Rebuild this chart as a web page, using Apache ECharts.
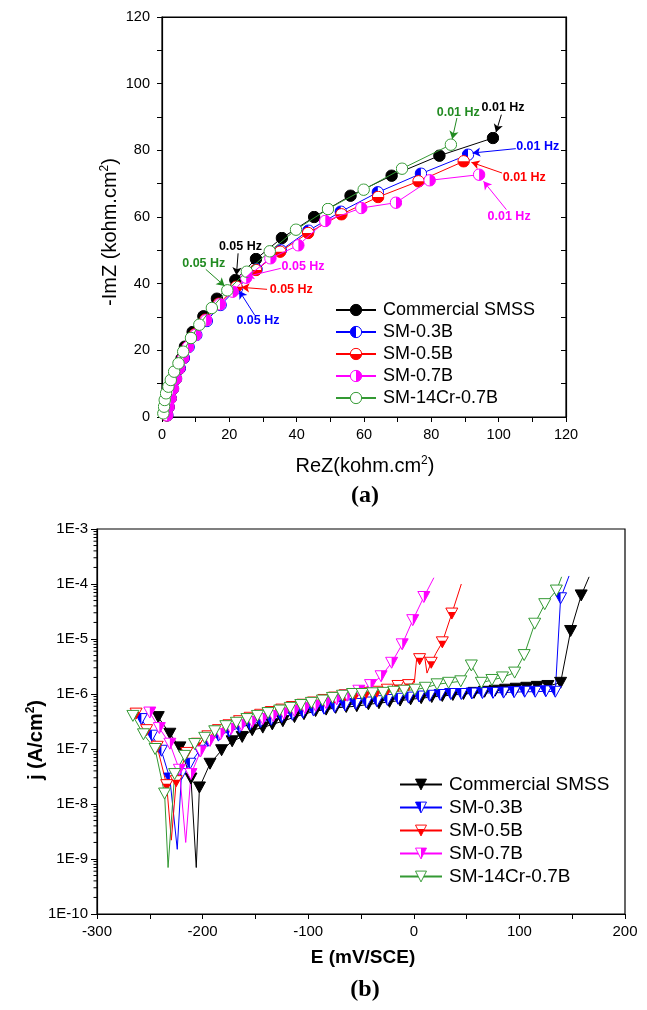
<!DOCTYPE html>
<html><head><meta charset="utf-8">
<script src="https://cdn.jsdelivr.net/npm/echarts@6/dist/echarts.min.js"></script>
<style>html,body{margin:0;padding:0;background:#fff}#c{width:647px;height:1010px}</style>
</head><body><div id="c"></div>
<script>
// ---------- shared ----------
const seriesNames = ['Commercial SMSS', 'SM-0.3B', 'SM-0.5B', 'SM-0.7B', 'SM-14Cr-0.7B'];
const seriesColors = ['#000000', '#0000ff', '#ff0000', '#ff00ff', '#339933'];
const markerFill = ['full', 'left', 'bottom', 'right', 'none'];

// ---------- (a) Nyquist: [ReZ, -ImZ] kohm.cm2 ----------
const nyqCommercial = [[1.4,0.5],[1.8,3.0],[2.3,5.5],[3.0,8.2],[3.8,11.2],[4.8,14.3],[5.8,17.5],[6.8,21.1],[9.1,25.5],[12.3,30.2],[16.3,35.5],[21.8,41.1],[27.9,47.4],[35.6,53.7],[45.2,60.0],[56.0,66.4],[68.2,72.4],[82.4,78.4],[98.3,83.7]];
const nyq03B = [[1.6,0.5],[2.0,3.0],[2.6,5.6],[3.3,8.5],[4.2,11.5],[5.3,14.6],[6.5,17.7],[7.9,21.0],[10.2,24.6],[13.3,28.8],[17.4,33.6],[22.3,38.6],[28.1,44.3],[35.3,50.0],[43.5,55.9],[53.1,61.6],[64.1,67.4],[76.9,73.0],[90.9,78.7]];
const nyq05B = [[1.5,0.5],[1.9,3.0],[2.5,5.6],[3.2,8.5],[4.1,11.5],[5.1,14.6],[6.3,17.7],[7.6,21.0],[9.8,24.8],[12.9,29.2],[16.9,34.0],[22.1,39.1],[27.9,44.1],[35.1,49.6],[43.4,55.2],[53.3,60.8],[64.2,66.0],[76.2,70.7],[89.6,76.7]];
const nyq07B = [[1.5,0.5],[1.9,3.0],[2.5,5.6],[3.2,8.5],[4.1,11.5],[5.1,14.6],[6.3,17.7],[7.7,21.0],[10.0,24.6],[13.1,29.0],[17.2,33.8],[21.0,37.6],[25.0,41.8],[32.2,47.6],[40.5,51.5],[48.5,58.8],[59.2,62.7],[69.5,64.3],[79.5,71.0],[94.2,72.7]];
const nyq14Cr = [[0.4,1.1],[0.6,3.1],[0.8,5.1],[1.2,7.1],[1.9,9.1],[2.6,11.1],[3.6,13.6],[4.9,16.1],[6.3,19.6],[8.6,23.7],[11.1,27.7],[14.8,32.7],[19.4,38.0],[25.2,43.6],[32.0,49.7],[39.8,56.2],[49.3,62.4],[59.9,68.2],[71.3,74.5],[85.8,81.7]];
const nyqTickLabels = [0, 20, 40, 60, 80, 100, 120];

// frequency annotations (data units): text, series index, label centre, arrow start, arrow end
const freqNotes = [
  {t:'0.01 Hz', s:0, at:[101.3,92.7], from:[100.8,90.7], to:[99.2,85.4]},
  {t:'0.01 Hz', s:4, at:[88.0,91.4], from:[87.6,89.7], to:[86.2,83.4]},
  {t:'0.01 Hz', s:1, at:[111.6,81.2], from:[105.1,80.5], to:[92.2,79.2]},
  {t:'0.01 Hz', s:2, at:[107.6,71.7], from:[101.0,73.2], to:[91.9,76.4]},
  {t:'0.01 Hz', s:3, at:[103.1,60.0], from:[102.3,62.2], to:[95.5,70.7]},
  {t:'0.05 Hz', s:0, at:[23.3,51.0], from:[22.6,49.1], to:[22.1,42.5]},
  {t:'0.05 Hz', s:4, at:[12.4,46.1], from:[13.0,44.3], to:[18.6,39.3]},
  {t:'0.05 Hz', s:3, at:[41.9,45.1], from:[35.3,44.6], to:[25.0,42.1]},
  {t:'0.05 Hz', s:2, at:[38.4,38.1], from:[31.2,38.3], to:[23.6,38.9]},
  {t:'0.05 Hz', s:1, at:[28.5,28.9], from:[27.5,30.6], to:[22.9,37.9]}
];
const noteColors = ['#000000', '#0000ff', '#ff0000', '#ff00ff', '#228b22'];

// ---------- (b) polarisation: [E mV/SCE, j A/cm2] ----------
const polCommercial = [[-242,3.8e-7],[-231,1.9e-7],[-221.5,1.07e-7],[-211,2.9e-8],[-203,2.0e-8],[-193,5.4e-8],[-182,9.5e-8],[-172,1.38e-7],[-162.5,1.66e-7],[-153,2.2e-7],[-143,2.45e-7],[-134,2.8e-7],[-124,3.2e-7],[-113,3.8e-7],[-104,4.3e-7],[-93,4.9e-7],[-83,5.2e-7],[-74,5.6e-7],[-64,5.8e-7],[-54,6.0e-7],[-43,6.5e-7],[-33,6.8e-7],[-23,7.2e-7],[-13,7.6e-7],[-3,8.0e-7],[7,8.4e-7],[17,8.8e-7],[27,9.2e-7],[37,9.6e-7],[47,1.0e-6],[57,1.05e-6],[67,1.1e-6],[77,1.15e-6],[87,1.2e-6],[97,1.25e-6],[107,1.3e-6],[117,1.35e-6],[127,1.4e-6],[139,1.6e-6],[148.5,1.4e-5],[158.5,6.2e-5]];
const polCommercialLine = [[-206,7e-10],[166,1.35e-4]];
const pol03B = [[-258,3.5e-7],[-248,1.75e-7],[-239,9.3e-8],[-231,2.9e-8],[-220,3.5e-8],[-212,5.4e-8],[-203,9.3e-8],[-195,1.4e-7],[-185,1.75e-7],[-175,2.1e-7],[-165,2.45e-7],[-155,2.8e-7],[-145,3.1e-7],[-135,3.4e-7],[-125,3.8e-7],[-115,4.2e-7],[-105,4.6e-7],[-95,5.0e-7],[-85,5.4e-7],[-75,5.8e-7],[-65,6.2e-7],[-55,6.6e-7],[-45,7.0e-7],[-35,7.4e-7],[-25,7.8e-7],[-15,8.2e-7],[-5,8.6e-7],[5,9.0e-7],[15,9.3e-7],[25,9.6e-7],[35,1.0e-6],[45,1.0e-6],[55,1.02e-6],[65,1.04e-6],[75,1.05e-6],[85,1.06e-6],[95,1.08e-6],[105,1.1e-6],[115,1.1e-6],[125,1.12e-6],[134,1.1e-6],[139,5.5e-5]];
const pol03BLine = [[-224,1.5e-9],[147,1.4e-4]];
const pol05B = [[-263,4.4e-7],[-253,2.2e-7],[-243,1.1e-7],[-234,2.2e-8],[-225,2.6e-8],[-215,8.5e-8],[-205,1.25e-7],[-195,1.7e-7],[-185,2.2e-7],[-175,2.7e-7],[-165,3.2e-7],[-155,3.7e-7],[-145,4.2e-7],[-135,4.7e-7],[-125,5.2e-7],[-115,5.8e-7],[-105,6.4e-7],[-95,7.0e-7],[-85,7.8e-7],[-75,8.6e-7],[-65,9.5e-7],[-55,1.0e-6],[-45,1.05e-6],[-35,1.1e-6],[-25,1.2e-6],[-15,1.4e-6],[-5,1.45e-6],[5.5,4.3e-6],[16.5,3.7e-6],[27,8.7e-6],[36,2.9e-5]];
const pol05BLine = [[-229.6,2.2e-9],[0.5,1.6e-6],[3,5.0e-6],[10,5.2e-6],[12.5,2.4e-6],[21,5.5e-6],[45,1.0e-4]];
const pol07B = [[-250,4.6e-7],[-241,2.4e-7],[-231,1.25e-7],[-222,4.2e-8],[-211,3.5e-8],[-202,9.0e-8],[-193,1.4e-7],[-183,1.85e-7],[-173,2.3e-7],[-163,2.7e-7],[-153,3.1e-7],[-143,3.5e-7],[-133,3.95e-7],[-123,4.4e-7],[-113,4.9e-7],[-103,5.5e-7],[-93,6.1e-7],[-83,6.8e-7],[-73,8.0e-7],[-63,9.3e-7],[-52,1.15e-6],[-41,1.45e-6],[-31,2.1e-6],[-21,3.7e-6],[-11,8.0e-6],[-1,2.2e-5],[9.5,5.8e-5]];
const pol07BLine = [[-216,2.0e-9],[19,1.3e-4]];
const pol14Cr = [[-266,4.0e-7],[-256,1.85e-7],[-245,1.0e-7],[-236,1.55e-8],[-226.5,3.5e-8],[-217,7.5e-8],[-207.5,1.23e-7],[-198,1.6e-7],[-188.5,2.1e-7],[-178,2.6e-7],[-168,3.0e-7],[-158,3.5e-7],[-148,4.0e-7],[-138,4.5e-7],[-127,5.0e-7],[-117,5.6e-7],[-107,6.3e-7],[-97,6.9e-7],[-86.5,7.6e-7],[-77,8.5e-7],[-67.5,9.3e-7],[-58,1.0e-6],[-49,1.0e-6],[-39,1.03e-6],[-29,1.05e-6],[-19,1.1e-6],[-9,1.15e-6],[1,1.2e-6],[11,1.3e-6],[22,1.5e-6],[33,1.6e-6],[44.5,1.7e-6],[54.5,3.3e-6],[64,1.6e-6],[74,1.8e-6],[84,2.0e-6],[95.5,2.45e-6],[104.5,5.1e-6],[114.5,1.9e-5],[124,4.3e-5],[135,7.6e-5]];
const pol14CrLine = [[-232.7,7e-10],[140,1.35e-4]];
const logTickLabels = ['1E-10','1E-9','1E-8','1E-7','1E-6','1E-5','1E-4','1E-3'];
const potTickLabels = [-300, -200, -100, 0, 100, 200];

// ---------- helpers ----------
const FONT = 'Liberation Sans, Arial, sans-serif';
function symbolFor(shape, mode, color) {
  let svg;
  if (shape === 'circle') {
    let half = '';
    if (mode === 'left') half = `<path d="M13,1.5 A11.5,11.5 0 0 0 13,24.5 Z" fill="${color}"/>`;
    if (mode === 'right') half = `<path d="M13,1.5 A11.5,11.5 0 0 1 13,24.5 Z" fill="${color}"/>`;
    if (mode === 'bottom') half = `<path d="M1.5,13 A11.5,11.5 0 0 0 24.5,13 Z" fill="${color}"/>`;
    svg = `<svg xmlns="http://www.w3.org/2000/svg" width="26" height="26" viewBox="0 0 26 26"><circle cx="13" cy="13" r="11.5" fill="${mode === 'full' ? color : '#ffffff'}"/>${half}<circle cx="13" cy="13" r="11.5" fill="none" stroke="${color}" stroke-width="2"/></svg>`;
  } else {
    let half = '';
    if (mode === 'left') half = `<polygon points="2,2 14,2 14,24" fill="${color}"/>`;
    if (mode === 'right') half = `<polygon points="14,2 26,2 14,24" fill="${color}"/>`;
    if (mode === 'bottom') half = `<polygon points="6.4,10 21.6,10 14,24" fill="${color}"/>`;
    svg = `<svg xmlns="http://www.w3.org/2000/svg" width="28" height="26" viewBox="0 0 28 26"><polygon points="2,2 26,2 14,24" fill="${mode === 'full' ? color : '#ffffff'}"/>${half}<polygon points="2,2 26,2 14,24" fill="none" stroke="${color}" stroke-width="2" stroke-linejoin="miter"/></svg>`;
  }
  return 'image://data:image/svg+xml;charset=utf-8,' + encodeURIComponent(svg);
}
function withLinePoints(markers, lineOnly) {
  const pts = markers.map(p => ({value: p}));
  lineOnly.forEach(p => pts.push({value: p, symbol: 'none'}));
  pts.sort((a, b) => a.value[0] - b.value[0]);
  return pts;
}

const nyqData = [nyqCommercial, nyq03B, nyq05B, nyq07B, nyq14Cr];
const polData = [[polCommercial, polCommercialLine], [pol03B, pol03BLine], [pol05B, pol05BLine], [pol07B, pol07BLine], [pol14Cr, pol14CrLine]];

const series = [];
// (a) drawing order: 0.5B, 0.7B, 0.3B, commercial, 14Cr on top
[2, 3, 1, 0, 4].forEach(i => {
  series.push({
    name: 'a:' + seriesNames[i], type: 'line', xAxisIndex: 0, yAxisIndex: 0,
    data: nyqData[i], symbol: symbolFor('circle', markerFill[i], seriesColors[i]), symbolSize: 13,
    lineStyle: {color: seriesColors[i], width: 1}, itemStyle: {color: seriesColors[i]},
    z: 2 + i * 0.01, animation: false
  });
});
// annotations
series.push({
  type: 'scatter', xAxisIndex: 0, yAxisIndex: 0, data: [], silent: true, z: 5,
  markLine: {
    silent: true, animation: false, symbol: ['none', 'arrow'], symbolSize: [7, 8], label: {show: false},
    data: freqNotes.map(n => [{coord: n.from, lineStyle: {color: noteColors[n.s], width: 1, type: 'solid'}}, {coord: n.to}])
  },
  markPoint: {
    silent: true, animation: false, symbol: 'rect', symbolSize: 1, itemStyle: {color: 'rgba(0,0,0,0)'},
    data: freqNotes.map(n => ({name: n.t, coord: n.at, label: {show: true, position: 'inside', formatter: '{b}', color: noteColors[n.s], fontSize: 12.5, fontWeight: 'bold', fontFamily: FONT}}))
  }
});
// (b)
[0, 1, 2, 3, 4].forEach(i => {
  series.push({
    name: 'b:' + seriesNames[i], type: 'line', xAxisIndex: 2, yAxisIndex: 2,
    data: withLinePoints(polData[i][0], polData[i][1]),
    symbol: symbolFor('tri', markerFill[i], seriesColors[i]), symbolSize: [14, 13],
    lineStyle: {color: seriesColors[i], width: 1}, itemStyle: {color: seriesColors[i]},
    z: 2, animation: false
  });
});
// log minor ticks on the (b) current-density axis
const minorVals = [];
for (let k = -10; k < -3; k++) for (let m = 2; m <= 9; m++) minorVals.push([-300, m * Math.pow(10, k)]);
series.push({
  type: 'custom', xAxisIndex: 2, yAxisIndex: 2, data: minorVals, clip: false, silent: true, z: 10,
  encode: {x: 0, y: 1},
  renderItem: (params, api) => {
    const p = api.coord([api.value(0), api.value(1)]);
    return {type: 'line', shape: {x1: p[0] - 3.5, y1: p[1], x2: p[0], y2: p[1]}, style: {stroke: '#000', lineWidth: 1}};
  }
});

const axisLabA = {color: '#000', fontSize: 14.5, fontFamily: FONT};
const axisLabB = {color: '#000', fontSize: 15, fontFamily: FONT};
const option = {
  animation: false,
  backgroundColor: '#fff',
  grid: [
    {left: 162, top: 17, width: 404, height: 400, show: true, borderColor: '#000', borderWidth: 1.2, backgroundColor: 'transparent'},
    {left: 97, top: 529, width: 528, height: 385, show: true, borderColor: '#000', borderWidth: 1.2, backgroundColor: 'transparent'}
  ],
  xAxis: [
    {gridIndex: 0, type: 'value', min: 0, max: 120, interval: 10, position: 'bottom',
      axisLine: {show: true, onZero: false, lineStyle: {color: '#000', width: 1.2}},
      axisTick: {show: true, inside: false, length: 5, lineStyle: {color: '#000'}},
      axisLabel: {...axisLabA, margin: 10, formatter: v => nyqTickLabels.includes(v) ? String(v) : ''},
      splitLine: {show: false}},
    {gridIndex: 0, type: 'value', min: 0, max: 120, interval: 10, position: 'top',
      axisLine: {show: true, onZero: false, lineStyle: {color: '#000', width: 1.2}},
      axisTick: {show: false}, axisLabel: {show: false}, splitLine: {show: false}},
    {gridIndex: 1, type: 'value', min: -300, max: 200, interval: 50, position: 'bottom',
      axisLine: {show: true, onZero: false, lineStyle: {color: '#000', width: 1.2}},
      axisTick: {show: true, inside: false, length: 5, lineStyle: {color: '#000'}},
      axisLabel: {...axisLabB, margin: 10, formatter: v => potTickLabels.includes(v) ? String(v) : ''},
      splitLine: {show: false}}
  ],
  yAxis: [
    {gridIndex: 0, type: 'value', min: 0, max: 120, interval: 10, position: 'left',
      axisLine: {show: true, onZero: false, lineStyle: {color: '#000', width: 1.2}},
      axisTick: {show: true, inside: false, length: 5, lineStyle: {color: '#000'}},
      axisLabel: {...axisLabA, margin: 12, formatter: v => nyqTickLabels.includes(v) ? String(v) : ''},
      splitLine: {show: false}},
    {gridIndex: 0, type: 'value', min: 0, max: 120, interval: 10, position: 'right',
      axisLine: {show: true, onZero: false, lineStyle: {color: '#000', width: 1.2}},
      axisTick: {show: true, inside: true, length: 5, lineStyle: {color: '#000'}},
      axisLabel: {show: false}, splitLine: {show: false}},
    {gridIndex: 1, type: 'log', logBase: 10, min: 1e-10, max: 1e-3, splitNumber: 7, position: 'left',
      axisLine: {show: true, onZero: false, lineStyle: {color: '#000', width: 1.2}},
      axisTick: {show: true, inside: false, length: 6, lineStyle: {color: '#000'}},
      axisLabel: {...axisLabB, margin: 9, formatter: v => logTickLabels[Math.round(Math.log10(v)) + 10] || ''},
      splitLine: {show: false}, minorTick: {show: false}}
  ],
  legend: [
    {data: seriesNames.map(n => 'a:' + n), orient: 'vertical', left: 335, top: 301, padding: 0, itemWidth: 40, itemHeight: 16, itemGap: 4,
      selectedMode: false, formatter: n => n.slice(2), textStyle: {color: '#000', fontSize: 18, fontFamily: FONT, padding: [0, 0, 0, 2]}},
    {data: seriesNames.map(n => 'b:' + n), orient: 'vertical', left: 399, top: 775, padding: 0, itemWidth: 42, itemHeight: 16, itemGap: 4,
      selectedMode: false, formatter: n => n.slice(2), textStyle: {color: '#000', fontSize: 19, fontFamily: FONT, padding: [0, 0, 0, 2]}}
  ],
  graphic: [
    {type: 'text', x: 110, y: 232, rotation: Math.PI / 2, z: 20,
      style: {text: '{m|-ImZ (kohm.cm}{s|2}{m|)}', align: 'center', verticalAlign: 'middle',
        rich: {m: {fontSize: 20, fontFamily: FONT, fill: '#000'}, s: {fontSize: 12, fontFamily: FONT, fill: '#000', padding: [0, 0, 10, 0]}}}},
    {type: 'text', x: 365, y: 466, z: 20,
      style: {text: '{m|ReZ(kohm.cm}{s|2}{m|)}', align: 'center', verticalAlign: 'middle',
        rich: {m: {fontSize: 20, fontFamily: FONT, fill: '#000'}, s: {fontSize: 12, fontFamily: FONT, fill: '#000', padding: [0, 0, 10, 0]}}}},
    {type: 'text', x: 365, y: 496, z: 20,
      style: {text: '(a)', align: 'center', verticalAlign: 'middle', fontSize: 24, fontWeight: 'bold', fontFamily: 'Liberation Serif, Times New Roman, serif', fill: '#000'}},
    {type: 'text', x: 36, y: 740, rotation: Math.PI / 2, z: 20,
      style: {text: '{m|j (A/cm}{s|2}{m|)}', align: 'center', verticalAlign: 'middle',
        rich: {m: {fontSize: 20, fontWeight: 'bold', fontFamily: FONT, fill: '#000'}, s: {fontSize: 12, fontWeight: 'bold', fontFamily: FONT, fill: '#000', padding: [0, 0, 10, 0]}}}},
    {type: 'text', x: 363, y: 958, z: 20,
      style: {text: 'E (mV/SCE)', align: 'center', verticalAlign: 'middle', fontSize: 19, fontWeight: 'bold', fontFamily: FONT, fill: '#000'}},
    {type: 'text', x: 365, y: 990, z: 20,
      style: {text: '(b)', align: 'center', verticalAlign: 'middle', fontSize: 24, fontWeight: 'bold', fontFamily: 'Liberation Serif, Times New Roman, serif', fill: '#000'}}
  ],
  series: series
};
const chart = echarts.init(document.getElementById('c'), null, {renderer: 'canvas'});
chart.setOption(option);
</script>
</body></html>
